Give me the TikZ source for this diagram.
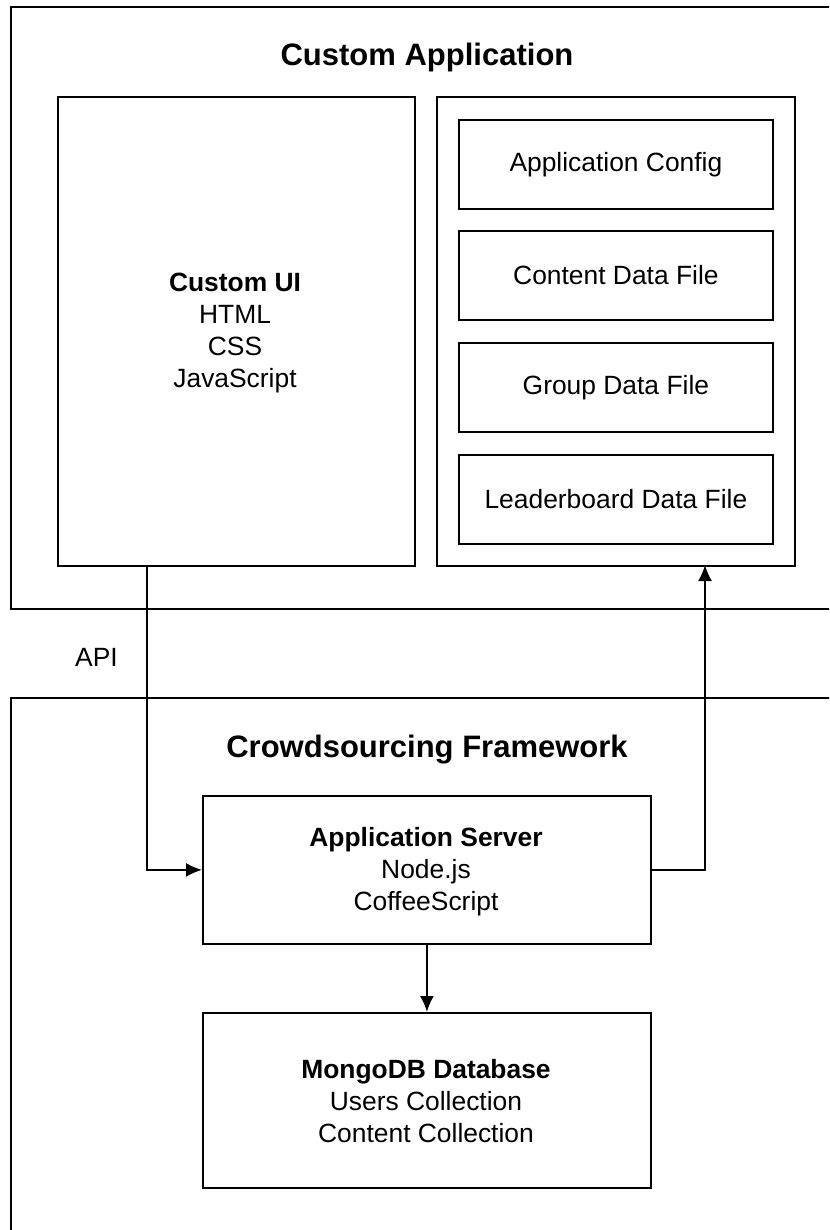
\documentclass[tikz,border=0pt]{standalone}
\usepackage{fontspec}
\setmainfont{Liberation Sans}
\usetikzlibrary{arrows.meta}
\begin{document}
\begin{tikzpicture}[x=1pt,y=-1pt,
  frame/.style={draw=black,line width=1.8pt},
  box/.style={draw=black,line width=1.8pt,anchor=north west,inner sep=0pt},
  txt/.style={font=\fontsize{26.4}{32}\selectfont,align=center,inner sep=0pt},
  ttl/.style={font=\fontsize{31}{36}\selectfont\bfseries,inner sep=0pt},
  conn/.style={draw=black,line width=1.8pt,-{Latex[length=16pt,width=14pt]}}]
\clip (0,0) rectangle (829,1230);
\fill[white] (0,0) rectangle (829,1230);

% outer layers
\draw[frame] (11,1240) -- (11,698) -- (840,698);
\draw[frame] (840,609) -- (11,609) -- (11,7) -- (840,7);
\node[ttl] (apptitle) at (427,57) {Custom Application};
\node[ttl] (fwtitle) at (427,750) {Crowdsourcing Framework};
\node[txt,anchor=west] (api) at (75,657) {API};

% custom application
\node[box,minimum width=357pt,minimum height=469pt] (ui) at (57,96) {};
\node[txt] (uitext) at (235,333) {\textbf{Custom UI}\\HTML\\CSS\\JavaScript};
\node[box,minimum width=358pt,minimum height=469pt] (files) at (436,96) {};
\node[box,minimum width=314pt,minimum height=89pt,txt,anchor=north west] (cfg) at (458,119) {Application Config};
\node[box,minimum width=314pt,minimum height=89pt,txt,anchor=north west] (content) at (458,230) {Content Data File};
\node[box,minimum width=314pt,minimum height=89pt,txt,anchor=north west] (group) at (458,342) {Group Data File};
\node[box,minimum width=314pt,minimum height=89pt,txt,anchor=north west] (leader) at (458,454) {Leaderboard Data File};

% crowdsourcing framework
\node[box,minimum width=448pt,minimum height=148pt] (server) at (202,795) {};
\node[txt] (servertext) at (426,872) {\textbf{Application Server}\\Node.js\\CoffeeScript};
\node[box,minimum width=448pt,minimum height=175pt] (db) at (202,1012) {};
\node[txt] (dbtext) at (426,1101) {\textbf{MongoDB Database}\\Users Collection\\Content Collection};

% connectors
\coordinate (uiout) at (147,565);
\coordinate (filesin) at (705,565);
\draw[conn] (uiout) |- (server.west);
\draw[conn] (server.east) -| (filesin);
\draw[conn] (server.south) -- (db.north);
\end{tikzpicture}
\end{document}
